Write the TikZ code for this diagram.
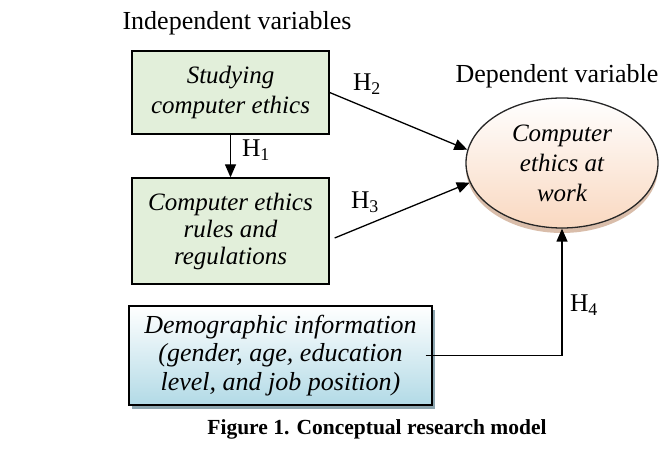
\documentclass[tikz,border=0pt]{standalone}
\usepackage{fontspec}
\setmainfont{Liberation Serif}
\usepackage{tikz}
\usetikzlibrary{shapes.geometric}
\usetikzlibrary{arrows.meta}
\usetikzlibrary{shadows}
\definecolor{boxgreen}{RGB}{226,239,218}
\definecolor{demoblue}{RGB}{178,218,230}
\definecolor{demoshadow}{RGB}{140,165,175}
\definecolor{workpeach}{RGB}{249,216,192}
\definecolor{workshadow}{RGB}{185,135,100}
\tikzset{
varbox/.style={draw=black, line width=1.3pt, fill=boxgreen, minimum width=197pt, inner sep=0pt,
  align=center, font=\fontsize{25}{28}\selectfont\itshape},
hyp/.style={line width=1.3pt, -{Triangle[length=13pt,width=11pt]}},
hlabel/.style={font=\fontsize{25.5}{28}\selectfont},
}

\begin{document}
\begin{tikzpicture}[x=1pt,y=-1pt]
\useasboundingbox (0,0) rectangle (665,454);
\node[hlabel, font=\fontsize{26}{28}\selectfont] (indep) at (237,23) {Independent variables};
\node[hlabel, font=\fontsize{26}{28}\selectfont] (dep) at (557,76) {Dependent variable};
\node[varbox, minimum height=83pt, font=\fontsize{25}{30}\selectfont\itshape] (study) at (230.5,92.5) {Studying\\computer ethics};
\node[varbox, minimum height=106pt, font=\fontsize{25}{27}\selectfont\itshape] (rules) at (230.5,231) {Computer ethics\\rules and\\regulations};
\node[draw=black, line width=1.3pt, top color=white, bottom color=demoblue, minimum width=303pt,
  minimum height=99pt, inner sep=0pt, align=center, font=\fontsize{26}{28.5}\selectfont\itshape,
  drop shadow={shadow xshift=3pt, shadow yshift=-4pt, fill=demoshadow, opacity=1}] (demo) at (280.5,355.5)
  {Demographic information\\(gender, age, education\\level, and job position)};
\node[ellipse, draw=black!85, line width=1.3pt, top color=white, bottom color=workpeach, minimum width=192pt,
  minimum height=130pt, inner sep=0pt, align=center, font=\fontsize{25}{30}\selectfont\itshape,
  drop shadow={shadow xshift=0pt, shadow yshift=-5pt, fill=workshadow, opacity=0.55}] (work) at (562,163)
  {Computer\\ethics at\\work};
\node[hlabel] (h1) at (256,150) {H\textsubscript{1}};
\node[hlabel] (h2) at (367,84) {H\textsubscript{2}};
\node[hlabel] (h3) at (365,202) {H\textsubscript{3}};
\node[hlabel] (h4) at (584,305) {H\textsubscript{4}};
\draw[hyp] (study.south) -- (rules.north);
\draw[hyp] (study.east) -- (work.172);
\draw[hyp] ([xshift=5pt,yshift=-7pt]rules.east) -- (work.192);
\draw[hyp] ([xshift=-7pt]demo.east) -| (work.south);
\node[font=\fontsize{21.5}{25}\selectfont\bfseries] (caption) at (377,429) {Figure 1. Conceptual research model};
\end{tikzpicture}
\end{document}
